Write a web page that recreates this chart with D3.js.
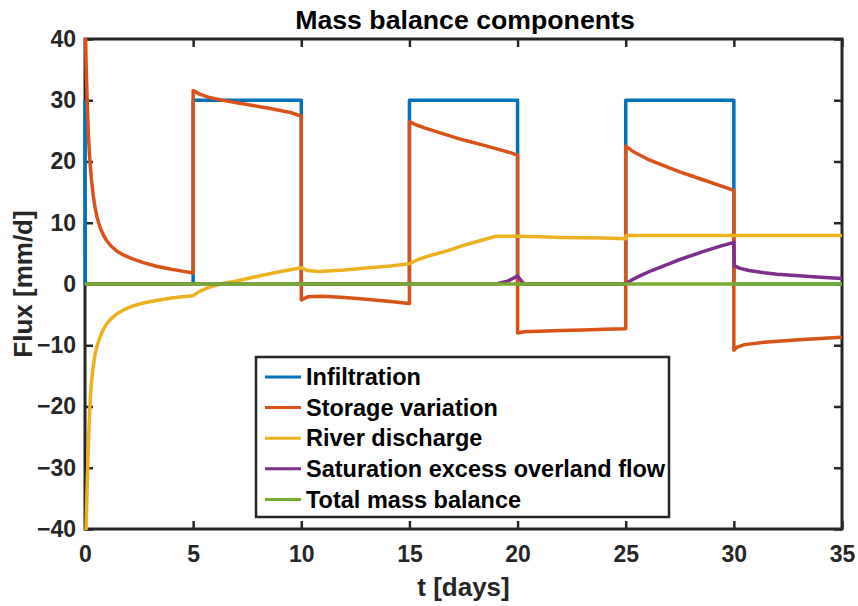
<!DOCTYPE html>
<html>
<head>
<meta charset="utf-8">
<script src="https://cdn.jsdelivr.net/npm/d3@7"></script>
<style>
  body { margin: 0; background: #fff; }
  svg { font-family: "Liberation Sans", Arial, Helvetica, sans-serif; font-weight: bold; }
</style>
</head>
<body>
<div id="chart"></div>
<script>
const width = 858;
const height = 606;

// Plot box in pixels
const margin = { top: 39, right: 16, bottom: 77, left: 85 };
const plotW = width - margin.left - margin.right;
const plotH = height - margin.top - margin.bottom;

// Series names and colours (MATLAB default order)
const seriesNames = ["Infiltration", "Storage variation", "River discharge",
  "Saturation excess overland flow", "Total mass balance"];
const seriesColors = ["#0072BD", "#D95319", "#EDB120", "#7E2F8E", "#77AC30"];

// Infiltration
const infilT = [0, 0.01, 5, 5, 10, 10, 15, 15, 20, 20, 25, 25, 30, 30, 35];
const infilV = [30, 0, 0, 30, 30, 0, 0, 30, 30, 0, 0, 30, 30, 0, 0];

// Storage variation
const storT = [0, 0.05, 0.1, 0.15, 0.2, 0.25, 0.3, 0.38, 0.45, 0.55, 0.7, 0.85, 1.0, 1.2, 1.5, 1.8, 2.2, 2.7, 3.3, 4.0, 4.5, 5.0,
  5.0, 5.3, 5.7, 6.5, 7.5, 8.5, 9.5, 10,
  10, 10.3, 11, 12, 13, 14, 15,
  15, 15.3, 15.7, 16.5, 17.5, 18.5, 19.2, 19.7, 20,
  20, 20.3, 21, 22, 23, 24, 25,
  25, 25.4, 26, 26.7, 27.5, 28.5, 29.5, 30,
  30, 30.15, 30.5, 31.4, 33, 35];
const storV = [46, 36, 30, 25, 21.5, 19, 17, 14.5, 12.8, 11, 9.2, 8, 7.1, 6.2, 5.3, 4.7, 4.1, 3.5, 2.9, 2.4, 2.1, 1.8,
  31.6, 31.0, 30.5, 29.9, 29.3, 28.7, 28.0, 27.4,
  -2.6, -2.1, -2.0, -2.2, -2.5, -2.8, -3.2,
  26.5, 26.0, 25.5, 24.6, 23.5, 22.6, 21.9, 21.4, 21.0,
  -8.0, -7.8, -7.7, -7.6, -7.5, -7.4, -7.3,
  22.5, 21.5, 20.4, 19.4, 18.3, 17.1, 15.9, 15.3,
  -10.8, -10.3, -9.9, -9.5, -9.1, -8.7];

// River discharge
const riverT = [0, 0.05, 0.1, 0.15, 0.2, 0.25, 0.3, 0.38, 0.45, 0.55, 0.7, 0.85, 1.0, 1.2, 1.5, 1.8, 2.2, 2.7, 3.3, 4, 4.5, 5,
  5.3, 5.7, 6.25, 7, 8.1, 9, 10, 10.3, 10.8, 12, 13, 14, 15,
  15.4, 16, 16.74, 17.5, 18.3, 19, 20, 21, 22, 23, 24, 25, 25.01, 35];
const riverV = [-46, -40, -33, -27, -22, -18.5, -16, -13.5, -11.8, -10.2, -8.6, -7.4, -6.5, -5.7, -4.8, -4.2, -3.6, -3.1, -2.7, -2.3, -2.1, -1.9,
  -1.2, -0.6, 0, 0.5, 1.35, 2.0, 2.65, 2.2, 2.05, 2.3, 2.6, 2.9, 3.3,
  4.0, 4.7, 5.4, 6.3, 7.1, 7.8, 7.8, 7.7, 7.6, 7.55, 7.5, 7.4, 7.9, 7.9];

// Saturation excess overland flow
const satT = [0, 19, 19.5, 20, 20.3, 25, 25.3, 25.7, 26.2, 27, 27.5, 28.5, 29.3, 30,
  30.02, 30.25, 30.7, 31.4, 32, 33, 34, 35];
const satV = [0, 0, 0.4, 1.3, 0, 0, 0.7, 1.4, 2.2, 3.3, 4.0, 5.2, 6.1, 6.8,
  3.0, 2.6, 2.2, 1.85, 1.6, 1.35, 1.1, 0.9];

// Total mass balance
const totalT = [0, 35];
const totalV = [0, 0];

const seriesT = [infilT, storT, riverT, satT, totalT];
const seriesV = [infilV, storV, riverV, satV, totalV];

// Axis ticks
const xTicks = [0, 5, 10, 15, 20, 25, 30, 35];
const yTicks = [-40, -30, -20, -10, 0, 10, 20, 30, 40];

const svg = d3.select("#chart")
    .append("svg")
    .attr("width", width)
    .attr("height", height);

const g = svg.append("g")
    .attr("transform", `translate(${margin.left}, ${margin.top})`);

const xScale = d3.scaleLinear().domain([0, 35]).range([0, plotW]);
const yScale = d3.scaleLinear().domain([-40, 40]).range([plotH, 0]);

const axisColor = "#262626";

// Axes (ticks point inward, box on)
function styleAxis(sel) {
    sel.select(".domain").remove();
    sel.selectAll(".tick line").attr("stroke", axisColor).attr("stroke-width", 2.5);
    sel.selectAll(".tick text")
        .attr("fill", axisColor)
        .style("font-size", "23px")
        .style("font-family", "'Liberation Sans', Arial, sans-serif")
        .style("font-weight", "bold");
}

g.append("g")
    .attr("transform", `translate(0, ${plotH})`)
    .call(d3.axisBottom(xScale).tickValues(xTicks).tickSize(-8).tickPadding(17))
    .call(styleAxis);

g.append("g")
    .call(d3.axisTop(xScale).tickValues(xTicks).tickSize(-8).tickFormat(""))
    .call(styleAxis);

g.append("g")
    .call(d3.axisLeft(yScale).tickValues(yTicks).tickSize(-8).tickPadding(9))
    .call(styleAxis);

g.append("g")
    .attr("transform", `translate(${plotW}, 0)`)
    .call(d3.axisRight(yScale).tickValues(yTicks).tickSize(-8).tickFormat(""))
    .call(styleAxis);

g.append("rect")
    .attr("x", 0)
    .attr("y", 0)
    .attr("width", plotW)
    .attr("height", plotH)
    .attr("fill", "none")
    .attr("stroke", axisColor)
    .attr("stroke-width", 3);

// Clip data lines to the axes
svg.append("defs").append("clipPath")
    .attr("id", "plot-clip")
    .append("rect")
    .attr("x", -2)
    .attr("y", -1)
    .attr("width", plotW + 3)
    .attr("height", plotH + 2);

const line = d3.line()
    .x(d => xScale(d[0]))
    .y(d => yScale(d[1]));

const lines = g.append("g").attr("clip-path", "url(#plot-clip)");

seriesNames.forEach((name, i) => {
    const pts = seriesT[i].map((t, j) => [t, seriesV[i][j]]);
    lines.append("path")
        .datum(pts)
        .attr("fill", "none")
        .attr("stroke", seriesColors[i])
        .attr("stroke-width", 3.5)
        .attr("stroke-linejoin", "round")
        .attr("d", line);
});

// Title and axis labels
svg.append("text")
    .attr("x", 465)
    .attr("y", 29)
    .attr("text-anchor", "middle")
    .attr("fill", "#000")
    .style("font-size", "26.7px")
    .text("Mass balance components");

svg.append("text")
    .attr("x", margin.left + plotW / 2)
    .attr("y", 596)
    .attr("text-anchor", "middle")
    .attr("fill", axisColor)
    .style("font-size", "26px")
    .text("t [days]");

svg.append("text")
    .attr("transform", `translate(32, ${margin.top + plotH / 2}) rotate(-90)`)
    .attr("text-anchor", "middle")
    .attr("fill", axisColor)
    .style("font-size", "26px")
    .text("Flux [mm/d]");

// Legend
const legend = svg.append("g")
    .attr("class", "legend")
    .attr("transform", "translate(256, 357)");

legend.append("rect")
    .attr("width", 413)
    .attr("height", 160)
    .attr("fill", "#fff")
    .attr("stroke", axisColor)
    .attr("stroke-width", 2.5);

const rowY = i => 20 + i * 30.6;

legend.selectAll("line.key")
    .data(seriesNames)
    .enter()
    .append("line")
    .attr("class", "key")
    .attr("x1", 9)
    .attr("x2", 45)
    .attr("y1", (d, i) => rowY(i))
    .attr("y2", (d, i) => rowY(i))
    .attr("stroke", (d, i) => seriesColors[i])
    .attr("stroke-width", 3);

legend.selectAll("text")
    .data(seriesNames)
    .enter()
    .append("text")
    .attr("x", 50)
    .attr("y", (d, i) => rowY(i))
    .attr("dy", "0.35em")
    .attr("fill", "#000")
    .style("font-size", "23.5px")
    .text(d => d);
</script>
</body>
</html>
